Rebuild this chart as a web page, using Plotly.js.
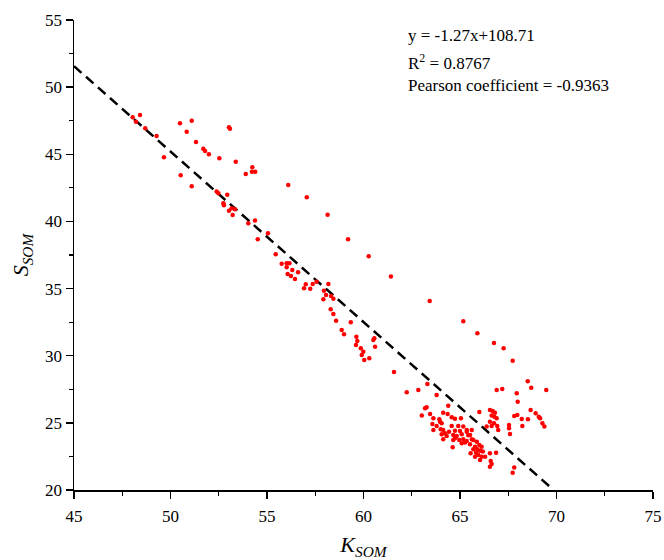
<!DOCTYPE html>
<html>
<head>
<meta charset="utf-8">
<script src="https://cdn.plot.ly/plotly-3.0.1.min.js"></script>
<style>html,body{margin:0;padding:0;background:#fff;}</style>
</head>
<body>
<div id="chart" style="width:664px;height:560px;"></div>
<script>
// Observed K_SOM values
const kSOM = [
  48.42, 48.04, 48.21, 48.69, 49.28, 50.49, 51.10, 50.84, 51.32, 51.70,
  51.79, 51.99, 52.53, 53.03, 53.08, 53.38, 54.24, 54.22, 54.39, 53.90,
  49.66, 50.53, 51.10, 52.39, 52.48, 52.94, 52.74, 52.77, 53.17, 53.34,
  53.03, 53.22, 54.38, 54.03, 54.52,
  56.10, 57.06, 58.14, 59.20, 60.27, 61.42, 63.43,
  55.05, 55.45, 55.76, 56.02, 56.16, 56.02, 56.31, 56.61, 56.07, 56.24,
  56.45, 57.57, 57.37, 57.01, 58.18, 56.92, 57.24, 57.95, 58.06, 58.32,
  57.92, 58.44, 58.30, 58.44, 58.58, 59.34, 58.87, 58.99, 59.63, 59.68,
  60.56, 60.51, 59.61, 59.86, 59.99, 60.60, 59.91, 60.30, 60.04, 61.58,
  65.17, 65.90, 66.76, 67.26, 67.73, 68.51, 68.69, 69.47, 67.94, 67.99,
  66.90, 67.19, 62.24, 62.84, 63.31, 63.79, 63.27, 63.19, 64.39, 63.02,
  63.45, 63.62, 64.13, 64.36, 64.57, 64.74, 65.05, 63.93, 66.00, 66.55,
  66.69, 66.81, 66.64, 66.78, 66.90, 66.55, 66.76, 66.93, 66.64, 66.98,
  66.38, 67.81, 67.97, 68.20, 68.52, 68.66, 68.92, 69.08, 69.15, 69.27,
  69.37, 68.23, 67.54, 67.54, 67.59, 63.57, 63.79, 64.05, 64.57, 64.91,
  65.17, 63.62, 64.00, 64.43, 64.74, 65.00, 65.35, 65.61, 64.05, 64.31,
  64.65, 64.83, 65.09, 65.43, 64.13, 64.74, 64.96, 65.17, 65.35, 65.61,
  65.09, 65.26, 65.52, 65.87, 66.00, 66.12, 64.62, 65.78, 65.90, 65.69,
  66.04, 65.83, 66.18, 65.55, 65.95, 65.78, 66.12, 66.04, 66.59, 66.64,
  66.55, 66.87, 67.81, 67.73, 66.55, 66.30, 63.96, 64.13, 65.35, 65.52,
  65.69, 64.65, 64.22
];
// Observed S_SOM values
const sSOM = [
  47.93, 47.76, 47.43, 46.94, 46.36, 47.31, 47.50, 46.68, 45.92, 45.42,
  45.25, 45.00, 44.70, 47.01, 46.90, 44.45, 44.03, 43.70, 43.70, 43.53,
  44.78, 43.44, 42.62, 42.22, 42.10, 41.99, 41.35, 41.20, 40.98, 40.90,
  40.80, 40.48, 40.06, 39.86, 38.67,
  42.71, 41.80, 40.50, 38.67, 37.41, 35.89, 34.07,
  39.12, 37.55, 36.85, 36.88, 36.88, 36.59, 36.39, 36.21, 36.09, 35.94,
  35.71, 35.51, 35.34, 35.32, 35.34, 35.02, 34.99, 34.84, 34.52, 34.45,
  34.20, 34.25, 33.46, 33.11, 32.61, 32.49, 31.92, 31.60, 31.42, 31.10,
  31.30, 31.17, 30.80, 30.55, 30.30, 30.67, 30.06, 29.81, 29.68, 28.79,
  32.57, 31.67, 30.95, 30.55, 29.63, 28.10, 27.62, 27.45, 27.20, 26.58,
  27.45, 27.52, 27.28, 27.45, 27.90, 27.08, 26.16, 26.09, 26.28, 25.54,
  25.66, 25.34, 25.76, 25.66, 25.42, 25.31, 25.34, 25.27, 25.81, 25.96,
  25.89, 25.76, 25.54, 25.46, 25.34, 25.09, 24.97, 24.77, 24.77, 24.47,
  24.72, 25.51, 25.59, 25.29, 25.27, 25.96, 25.72, 25.46, 25.34, 24.97,
  24.72, 24.77, 24.84, 24.60, 24.17, 24.92, 24.77, 24.97, 24.77, 24.77,
  24.72, 24.47, 24.52, 24.34, 24.42, 24.40, 24.34, 24.47, 24.15, 24.02,
  24.10, 24.02, 24.15, 24.08, 23.78, 23.85, 23.73, 23.78, 23.65, 23.78,
  23.48, 23.53, 23.41, 23.60, 23.35, 23.23, 23.18, 23.23, 23.03, 23.03,
  22.93, 22.78, 22.86, 22.74, 22.61, 22.48, 22.48, 22.24, 22.16, 21.94,
  21.74, 22.78, 21.67, 21.29, 22.74, 22.48, 25.09, 24.47, 24.47, 24.10,
  23.73, 23.73, 24.22
];
// Regression line parameters
const slope = -1.27;
const intercept = 108.71;
const fitX = [45, (20 - intercept) / slope];
const fitY = fitX.map(v => slope * v + intercept);

const annotationLines = [
  "y = -1.27x+108.71",
  "R<sup>2</sup> = 0.8767",
  "Pearson coefficient = -0.9363"
];
const xTicks = [45, 50, 55, 60, 65, 70, 75];
const yTicks = [20, 25, 30, 35, 40, 45, 50, 55];

const serif = "Liberation Serif, Times New Roman, serif";

const traces = [
  {
    x: fitX, y: fitY, type: "scatter", mode: "lines",
    line: {color: "#000", width: 2.5, dash: "10px,6px"},
    hoverinfo: "skip", showlegend: false
  },
  {
    x: kSOM, y: sSOM, type: "scatter", mode: "markers",
    marker: {color: "#ff0000", size: 4.5, symbol: "circle"},
    showlegend: false
  }
];

const axisBase = {
  showline: true, linecolor: "#000", linewidth: 1.5,
  mirror: false, showgrid: false, zeroline: false,
  ticks: "outside", ticklen: 7, tickwidth: 1.5, tickcolor: "#000",
  tickfont: {family: serif, size: 17, color: "#000"},
  minor: {ticks: "outside", ticklen: 4, tickwidth: 1.2, tickcolor: "#000", dtick: 2.5, showgrid: false}
};

const layout = {
  width: 664, height: 560,
  margin: {l: 74, r: 11, t: 20, b: 70},
  paper_bgcolor: "#fff", plot_bgcolor: "#fff",
  showlegend: false,
  xaxis: Object.assign({}, axisBase, {
    range: [45, 75], tickvals: xTicks, ticktext: xTicks.map(String),
    ticklabelstandoff: 3,
    title: {text: "<i>K</i><sub><i>SOM</i></sub>", font: {family: serif, size: 22, color: "#000"}, standoff: 16}
  }),
  yaxis: Object.assign({}, axisBase, {
    range: [20, 55], tickvals: yTicks, ticktext: yTicks.map(String),
    title: {text: "<i>S</i><sub><i>SOM</i></sub>", font: {family: serif, size: 22, color: "#000"}, standoff: 10}
  }),
  annotations: annotationLines.map((t, i) => ({
    text: t, xref: "paper", yref: "paper",
    x: (406 - 74) / (653 - 74), y: 1 - (24 + i * 25 - 20) / 470,
    xanchor: "left", yanchor: "top", showarrow: false,
    font: {family: serif, size: 17, color: "#000"}
  }))
};

Plotly.newPlot("chart", traces, layout, {displayModeBar: false, staticPlot: true});
</script>
</body>
</html>
